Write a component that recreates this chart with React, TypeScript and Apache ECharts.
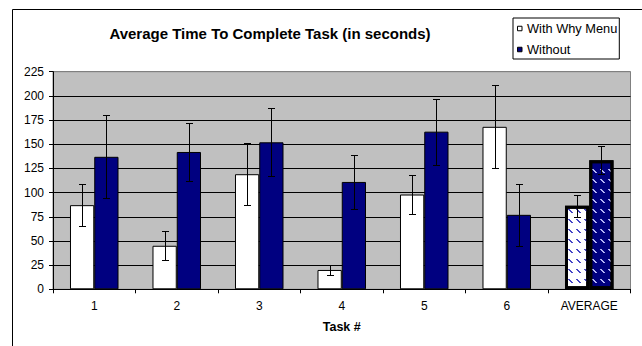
import React, { useEffect, useRef } from 'react';
import * as echarts from 'echarts';

const chartTitle = 'Average Time To Complete Task (in seconds)';
const xAxisName = 'Task #';
const categories = ['1', '2', '3', '4', '5', '6', 'AVERAGE'];
const seriesNames = ['With Why Menu', 'Without'];
const withWhyMenu = [87, 45, 119, 20, 98, 168, 86.5];
const withWhyMenuErr = [22, 15, 32, 5, 20, 43, 11.5];
const without = [137, 142, 152, 111, 163, 77, 133.5];
const withoutErr = [43, 30, 35, 28, 34, 32, 14.5];
const yMin = 0;
const yMax = 225;
const yStep = 25;

const FONT = "'Liberation Sans', Arial, sans-serif";
const NAVY = '#000080';
const BAR_RATIO = 0.294;

// "\" shaped hatch marks in rows, no rotation needed
const HATCH_X = [
  [2, 6],
  [0, 1, 2, 5],
  [0, 2, 2, 4],
  [0, 3, 2, 3],
  [0, 8],
  [0, 8],
  [0, 8],
  [0, 8],
  [0, 8],
  [0, 8],
];

function barData(values: number[], decalColor: string, bg: string) {
  return values.map((v, i) =>
    categories[i] === 'AVERAGE'
      ? {
          value: v,
          itemStyle: {
            borderWidth: 3,
            decal: {
              symbol: 'rect',
              symbolSize: 1,
              color: decalColor,
              backgroundColor: bg,
              dashArrayX: HATCH_X,
              dashArrayY: [1, 0],
              rotation: 0,
            },
          },
        }
      : v
  );
}

function errorSeries(name: string, values: number[], errs: number[], side: number) {
  return {
    type: 'custom',
    name,
    silent: true,
    z: 10,
    encode: { x: 0, y: [1, 2] },
    data: values.map((v, i) => [i, v - errs[i], v + errs[i]]),
    renderItem: (params: any, api: any) => {
      const idx = api.value(0);
      const pHi = api.coord([idx, api.value(2)]);
      const pLo = api.coord([idx, api.value(1)]);
      const band = api.size([1, 0])[0];
      const x = Math.round(pHi[0] + (side * band * BAR_RATIO) / 2) + 0.5;
      const cap = 3.5;
      const style = { stroke: '#000', lineWidth: 1 };
      const yHi = Math.round(pHi[1]) + 0.5;
      const yLo = Math.round(pLo[1]) + 0.5;
      return {
        type: 'group',
        children: [
          { type: 'line', shape: { x1: x, y1: yHi, x2: x, y2: yLo }, style },
          { type: 'line', shape: { x1: x - cap, y1: yHi, x2: x + cap, y2: yHi }, style },
          { type: 'line', shape: { x1: x - cap, y1: yLo, x2: x + cap, y2: yLo }, style },
        ],
      };
    },
  };
}

export default function App() {
  const ref = useRef<HTMLDivElement>(null);

  useEffect(() => {
    if (!ref.current) return;
    const chart = echarts.init(ref.current, null, { renderer: 'svg' });
    const splitColors: string[] = [];
    for (let v = yMin; v <= yMax; v += yStep) splitColors.push(v === yMax ? '#808080' : '#000');

    chart.setOption({
      animation: false,
      backgroundColor: '#fff',
      textStyle: { fontFamily: FONT },
      graphic: [
        {
          type: 'line',
          silent: true,
          shape: { x1: 12.5, y1: 9.5, x2: 642, y2: 9.5 },
          style: { stroke: '#000', lineWidth: 1 },
        },
        {
          type: 'line',
          silent: true,
          shape: { x1: 12.5, y1: 9.5, x2: 12.5, y2: 346 },
          style: { stroke: '#000', lineWidth: 1 },
        },
        {
          type: 'text',
          silent: true,
          x: 270,
          y: 33,
          style: {
            text: chartTitle,
            font: `bold 15px ${FONT}`,
            fill: '#000',
            align: 'center',
            verticalAlign: 'middle',
          },
        },
      ],
      legend: {
        data: seriesNames,
        orient: 'vertical',
        left: 513,
        top: 18,
        padding: [3.5, 2, 2.5, 4],
        itemGap: 7,
        itemWidth: 4.5,
        itemHeight: 4.5,
        icon: 'rect',
        backgroundColor: '#fff',
        borderColor: '#000',
        borderWidth: 1,
        borderRadius: 0,
        itemStyle: { borderColor: '#000', borderWidth: 1 },
        textStyle: { fontFamily: FONT, fontSize: 12.8, lineHeight: 14, color: '#000' },
      },
      grid: {
        left: 53,
        right: 11.5,
        top: 71.7,
        bottom: 56.7,
        show: true,
        backgroundColor: '#C0C0C0',
        borderColor: '#808080',
        borderWidth: 1,
      },
      xAxis: {
        type: 'category',
        data: categories,
        name: xAxisName,
        nameLocation: 'middle',
        nameGap: 31,
        nameTextStyle: { fontFamily: FONT, fontSize: 12.5, fontWeight: 'bold', color: '#000' },
        axisLine: { lineStyle: { color: '#000', width: 1 } },
        axisTick: { show: true, length: 4, lineStyle: { color: '#000' } },
        axisLabel: { fontFamily: FONT, fontSize: 12, color: '#000', margin: 11 },
      },
      yAxis: {
        type: 'value',
        min: yMin,
        max: yMax,
        interval: yStep,
        axisLine: { show: true, lineStyle: { color: '#000', width: 1 } },
        axisTick: { show: true, length: 4, lineStyle: { color: '#000' } },
        axisLabel: { fontFamily: FONT, fontSize: 12, color: '#000', margin: 9 },
        splitLine: { show: true, lineStyle: { color: splitColors, width: 1 } },
      },
      series: [
        {
          type: 'bar',
          name: seriesNames[0],
          barWidth: `${BAR_RATIO * 100}%`,
          barGap: '0%',
          itemStyle: { color: '#fff', borderColor: '#000', borderWidth: 1 },
          data: barData(withWhyMenu, '#4646c4', '#ffffff'),
        },
        {
          type: 'bar',
          name: seriesNames[1],
          barWidth: `${BAR_RATIO * 100}%`,
          barGap: '0%',
          itemStyle: { color: NAVY, borderColor: '#000', borderWidth: 1 },
          data: barData(without, '#b4b4f4', NAVY),
        },
        errorSeries('err-with', withWhyMenu, withWhyMenuErr, -1),
        errorSeries('err-without', without, withoutErr, 1),
      ],
    });
    return () => chart.dispose();
  }, []);

  return (
    <div
      ref={ref}
      style={{ position: 'absolute', left: 0, top: 0, width: 642, height: 346 }}
    />
  );
}
